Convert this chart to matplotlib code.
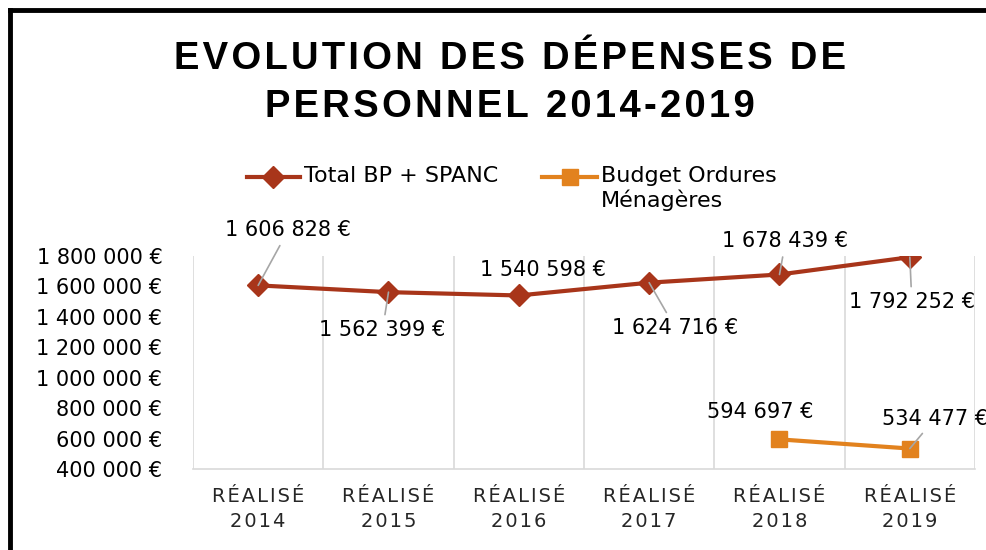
import matplotlib
matplotlib.use("Agg")
import matplotlib.pyplot as plt
from matplotlib.lines import Line2D
from matplotlib.ticker import FuncFormatter

# data
years = ["2014", "2015", "2016", "2017", "2018", "2019"]
total_bp = [1606828, 1562399, 1540598, 1624716, 1678439, 1792252]
om_years = [4, 5]
om_values = [594697, 534477]
y_ticks = [400000, 600000, 800000, 1000000, 1200000, 1400000, 1600000, 1800000]
series_names = ["Total BP + SPANC", "Budget Ordures\nMénagères"]
title = "EVOLUTION DES DÉPENSES DE\nPERSONNEL 2014-2019"

# label layout (pixel offsets from the point, leader line or not)
total_offsets = [(30, 55), (-6, -38), (24, 25), (26, -45), (6, 33), (2, -45)]
total_leader = [True, True, False, True, True, True]
om_offsets = [(-19, 27), (25, 30)]
om_leader = [False, True]

red = "#A8351A"
orange = "#E2821E"
grid = "#D9D9D9"
txt = "#000000"
HS = "\u200a"  # hair space, used as letter spacing


def spaced(s):
    return HS.join(s)


def euro(v, pos=None):
    return "{:,} €".format(int(v)).replace(",", " ")


fig = plt.figure(figsize=(9.87, 5.5), dpi=100)
ax = fig.add_axes([193 / 987, 1 - 469 / 550, (975 - 193) / 987, (469 - 256) / 550])

x = list(range(len(years)))
l1, = ax.plot(x, total_bp, color=red, lw=3, marker="D", ms=11, zorder=3)
l2, = ax.plot(om_years, om_values, color=orange, lw=3, marker="s", ms=12, zorder=3)

ax.set_xlim(-0.5, len(years) - 0.5)
ax.set_ylim(400000, 1800000)
ax.set_yticks(y_ticks)
ax.yaxis.set_major_formatter(FuncFormatter(euro))
ax.set_xticks(x)
ax.set_xticklabels([spaced("RÉALISÉ") + "\n" + spaced(y) for y in years],
                   color="#262626", fontsize=14, linespacing=1.4)
ax.tick_params(axis="x", length=0, pad=13)
ax.tick_params(axis="y", length=0, pad=22, labelsize=15)

for k in range(len(years) + 1):
    ax.axvline(k - 0.5, color=grid, lw=1.2, zorder=1)
for s in ["top", "left", "right"]:
    ax.spines[s].set_visible(False)
ax.spines["bottom"].set_color(grid)
ax.spines["bottom"].set_linewidth(1.2)


def label(xv, yv, off, leader):
    props = dict(arrowstyle="-", color="#A6A6A6", lw=1.2, shrinkA=2, shrinkB=0) if leader else None
    ax.annotate(euro(yv), (xv, yv), xytext=off, textcoords="offset pixels",
                ha="center", va="center", fontsize=15, color=txt,
                arrowprops=props, zorder=4)


for xv, yv, off, ld in zip(x, total_bp, total_offsets, total_leader):
    label(xv, yv, off, ld)
for xv, yv, off, ld in zip(om_years, om_values, om_offsets, om_leader):
    label(xv, yv, off, ld)

# legend, drawn by hand so the handle sits on the first text line
leg_y = 1 - 177 / 550
for line, (x0, x1), name in zip([l1, l2], [(247, 300), (542, 597)], series_names):
    fig.add_artist(Line2D([x0 / 987, x1 / 987], [leg_y, leg_y], color=line.get_color(),
                          lw=3, transform=fig.transFigure))
    fig.add_artist(Line2D([(x0 + x1) / 2 / 987], [leg_y], color=line.get_color(),
                          marker=line.get_marker(), ms=line.get_markersize(), lw=0,
                          transform=fig.transFigure))
    fig.text((x1 + 4) / 987, leg_y + 11 / 550, name, ha="left", va="top",
             fontsize=16, color=txt, linespacing=1.2)

fig.text(510 / 987, 1 - 83 / 550, "\n".join(spaced(t) for t in title.split("\n")),
         ha="center", va="center", fontsize=27.5, fontweight="bold",
         family=["Liberation Sans", "DejaVu Sans"], linespacing=1.42)

# black frame (left and top edges visible)
fig.add_artist(Line2D([10 / 987, 10 / 987], [0, 1 - 10 / 550], color="black", lw=3.5,
                      transform=fig.transFigure))
fig.add_artist(Line2D([10 / 987, 1], [1 - 10 / 550, 1 - 10 / 550], color="black", lw=3.5,
                      transform=fig.transFigure))

fig.savefig("out.png", dpi=100)
